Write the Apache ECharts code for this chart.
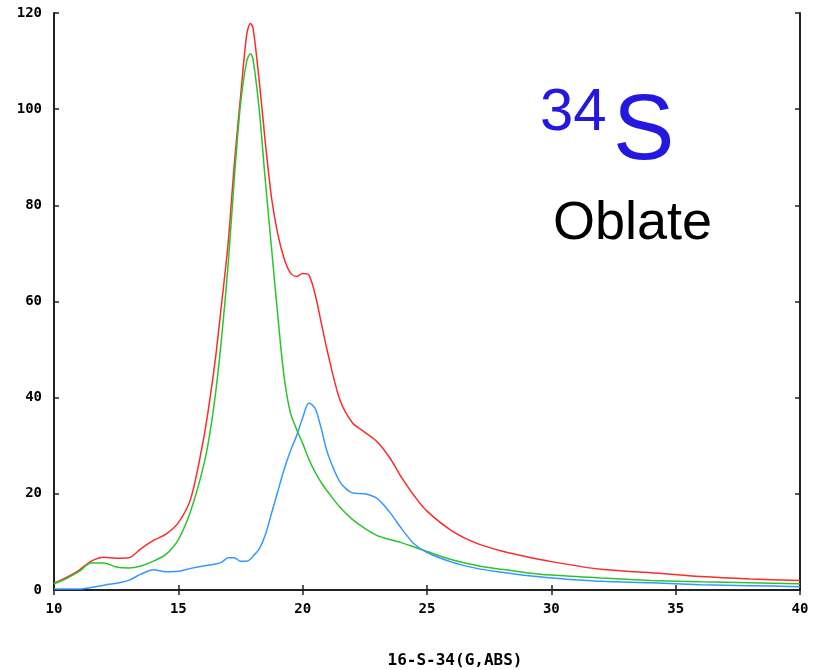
<!DOCTYPE html>
<html><head><meta charset="utf-8">
<script src="https://cdn.jsdelivr.net/npm/echarts@6/dist/echarts.min.js"></script>
<style>html,body{margin:0;padding:0;background:#fff}#c{width:815px;height:670px}</style>
</head><body><div id="c"></div>
<script>
const xValues = [10,10.5,11,11.5,12,12.5,13,13.5,14,14.5,15,15.5,16,16.25,16.5,16.75,17,17.25,17.5,17.75,17.9,18,18.25,18.5,18.75,19,19.25,19.5,19.75,20,20.25,20.5,20.75,21,21.5,22,22.5,23,23.5,24,24.5,25,26,27,28,29,30,32,34,36,38,40];
const redValues = [1.4,2.6,4.1,6.0,6.8,6.6,6.7,8.6,10.3,11.6,14.0,19.0,31,39,48.5,60,72,88.5,102.5,115.5,117.8,117,106,93,81.5,74,69,66,65.2,65.8,65.5,61.5,55.5,49.5,39.5,34.8,32.8,30.8,27.5,23.2,19.5,16.4,12.3,9.7,8.1,6.9,5.9,4.3,3.6,2.8,2.3,2.0];
const greenValues = [1.3,2.4,3.8,5.6,5.6,4.8,4.6,5.0,6.0,7.4,10.5,16.5,25.5,32,41,53,67.5,85.5,101,110,111.5,110.5,100,85,71,57,44.5,37,33.5,30.5,27.2,24.5,22.3,20.5,17.2,14.7,12.8,11.3,10.5,9.8,8.9,8.0,6.3,5.1,4.3,3.6,3.1,2.5,2.0,1.7,1.5,1.3];
const blueValues = [0.2,0.2,0.2,0.5,1.0,1.4,2.0,3.3,4.2,3.8,3.9,4.5,5.0,5.2,5.4,5.8,6.7,6.7,6.0,6.0,6.4,7.0,8.5,11.5,16,20.5,25.0,28.8,32.0,35.8,38.9,37.8,33.5,28.5,22.5,20.2,20.0,19.0,16.2,12.6,9.5,7.8,5.8,4.5,3.7,3.0,2.5,1.8,1.5,1.1,0.9,0.7];
const xTicks = {min:10, max:40, interval:5};
const yTicks = {min:0, max:120, interval:20};
const xAxisTitle = '16-S-34(G,ABS)';
const nucleusMass = '34';
const nucleusSymbol = 'S';
const shapeLabel = 'Oblate';

const pairs = v => xValues.map((x,i)=>[x,v[i]]);
const lbl = {fontFamily:'DejaVu Sans Mono', fontWeight:'bold', fontSize:14, color:'#000'};
const axLine = {show:true, lineStyle:{color:'#222', width:2}};
const tick = {show:true, inside:true, length:5, lineStyle:{color:'#222', width:1.5}};
const chart = echarts.init(document.getElementById('c'), null, {renderer:'canvas'});
const line = (v,c)=>({type:'line', data:pairs(v), showSymbol:false, smooth:0.3, lineStyle:{color:c, width:1.5}, itemStyle:{color:c}, animation:false, xAxisIndex:0, yAxisIndex:0});
chart.setOption({
  animation:false,
  grid:{left:54, right:15, top:13, bottom:80},
  xAxis:[
    {type:'value', position:'bottom', min:xTicks.min, max:xTicks.max, interval:xTicks.interval, axisLine:axLine, axisTick:tick, splitLine:{show:false}, axisLabel:Object.assign({margin:12}, lbl)},
    {type:'value', position:'top', min:xTicks.min, max:xTicks.max, interval:xTicks.interval, axisLine:axLine, axisTick:tick, splitLine:{show:false}, axisLabel:{show:false}}
  ],
  yAxis:[
    {type:'value', position:'left', min:yTicks.min, max:yTicks.max, interval:yTicks.interval, axisLine:axLine, axisTick:tick, splitLine:{show:false}, axisLabel:Object.assign({margin:12}, lbl)},
    {type:'value', position:'right', min:yTicks.min, max:yTicks.max, interval:yTicks.interval, axisLine:axLine, axisTick:tick, splitLine:{show:false}, axisLabel:{show:false}}
  ],
  series:[ line(redValues,'#ff2a2a'), line(greenValues,'#2cc42c'), line(blueValues,'#3399ff') ],
  graphic:[
    {type:'text', x:455, y:661, style:{text:xAxisTitle, font:'bold 16px "DejaVu Sans Mono", monospace', fill:'#000', align:'center', verticalAlign:'middle'}},
    {type:'text', left:540, top:83, style:{text:nucleusMass, font:'60px "Liberation Sans", Arial, sans-serif', fill:'#2418e0'}},
    {type:'text', left:613, top:88, style:{text:nucleusSymbol, font:'92px "Liberation Sans", Arial, sans-serif', fill:'#2418e0'}},
    {type:'text', left:553, top:197, style:{text:shapeLabel, font:'54px "Liberation Sans", Arial, sans-serif', fill:'#000'}}
  ]
});
</script></body></html>
